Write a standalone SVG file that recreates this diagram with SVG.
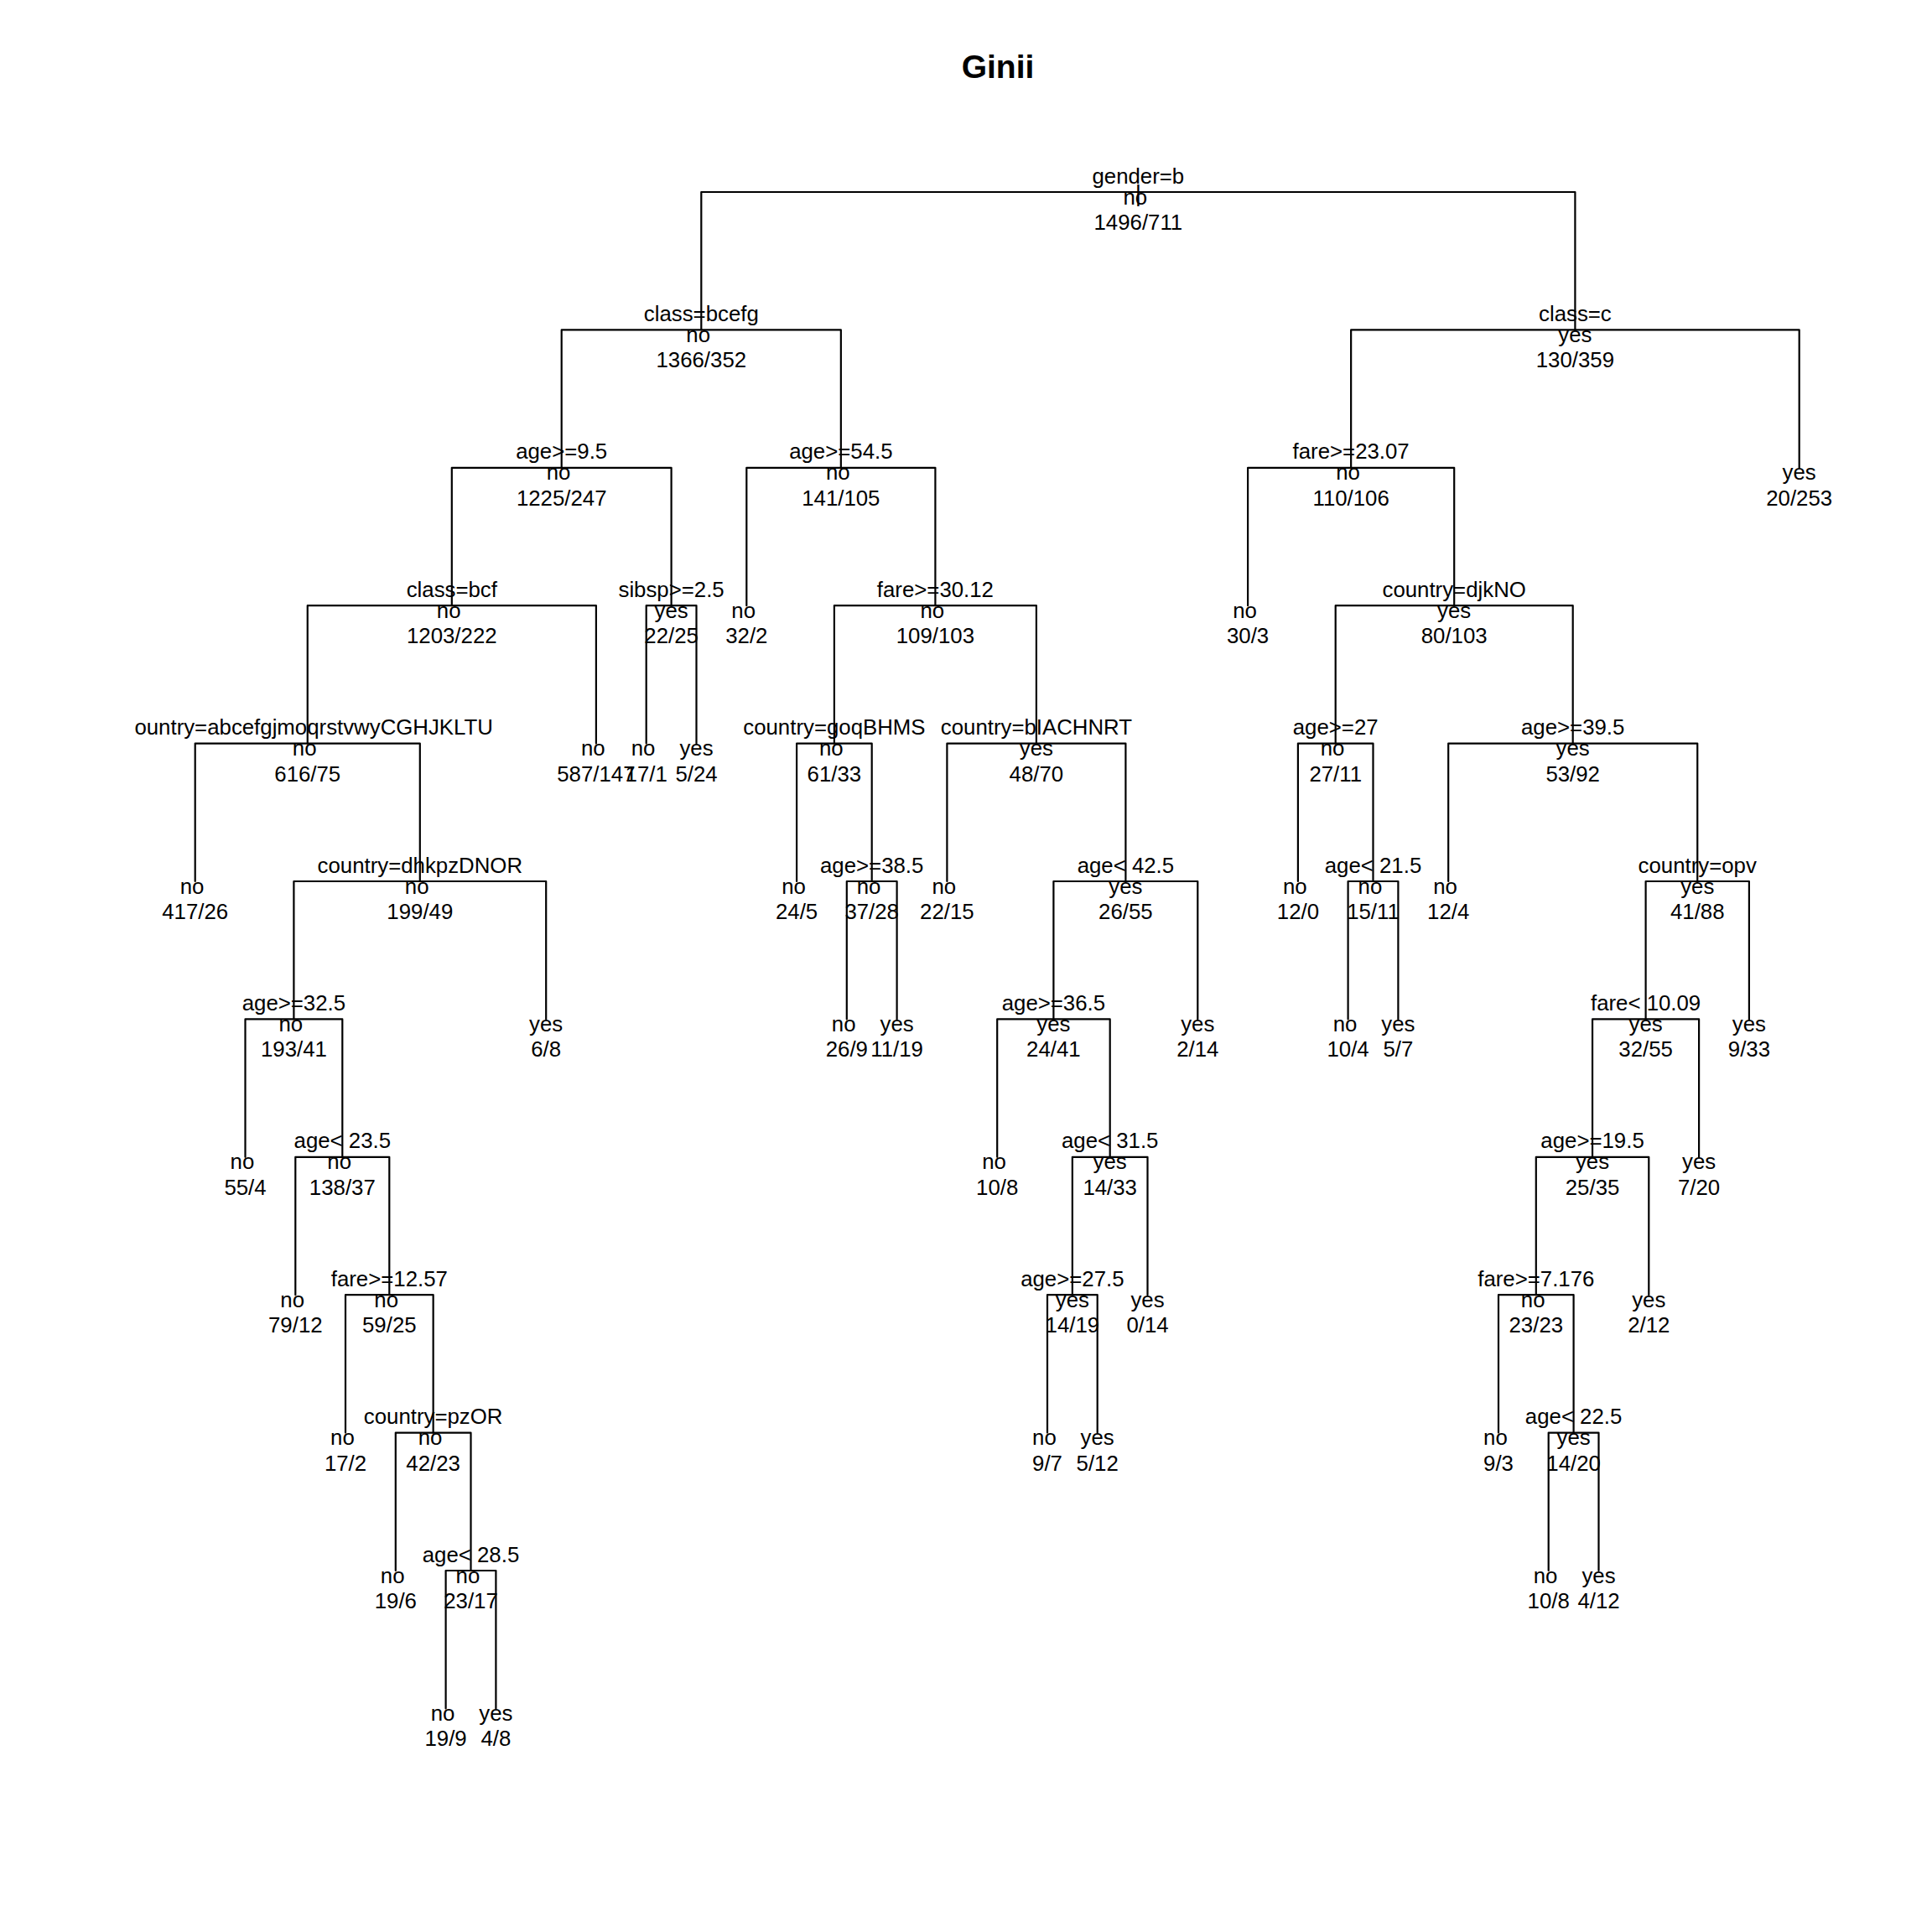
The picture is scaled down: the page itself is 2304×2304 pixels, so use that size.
<svg xmlns="http://www.w3.org/2000/svg" width="2304" height="2304" viewBox="0 0 2304 2304">
<style>
.t{font-family:"Liberation Sans",Arial,sans-serif;font-size:25.8px;text-anchor:middle;fill:#000}
.e{text-anchor:end}
.title{font-family:"Liberation Sans",Arial,sans-serif;font-size:39px;font-weight:bold;text-anchor:middle;fill:#000}
.br{fill:none;stroke:#000;stroke-width:2.2;stroke-linecap:round;stroke-linejoin:round}
</style>
<rect x="0" y="0" width="2304" height="2304" fill="#fff"/>
<text class="title" x="1190" y="93">Ginii</text>
<g id="connectors" class="br">
<path class="br" d="M836.3 393.4V229H1878.4V393.4"/>
<path class="br" d="M669.7 557.8V393.4H1002.85V557.8"/>
<path class="br" d="M1611.15 557.8V393.4H2145.7V557.8"/>
<path class="br" d="M538.8 722.2V557.8H800.6V722.2"/>
<path class="br" d="M890.3 722.2V557.8H1115.4V722.2"/>
<path class="br" d="M1488.1 722.2V557.8H1734.2V722.2"/>
<path class="br" d="M366.75 886.6V722.2H710.9V886.6"/>
<path class="br" d="M770.7 886.6V722.2H830.5V886.6"/>
<path class="br" d="M994.9 886.6V722.2H1235.9V886.6"/>
<path class="br" d="M1592.7 886.6V722.2H1875.7V886.6"/>
<path class="br" d="M232.7 1051V886.6H500.8V1051"/>
<path class="br" d="M950.1 1051V886.6H1039.7V1051"/>
<path class="br" d="M1129.4 1051V886.6H1342.4V1051"/>
<path class="br" d="M1547.9 1051V886.6H1637.5V1051"/>
<path class="br" d="M1727.2 1051V886.6H2024.25V1051"/>
<path class="br" d="M350.4 1215.4V1051H651.2V1215.4"/>
<path class="br" d="M1009.8 1215.4V1051H1069.6V1215.4"/>
<path class="br" d="M1256.4 1215.4V1051H1428.3V1215.4"/>
<path class="br" d="M1607.6 1215.4V1051H1667.4V1215.4"/>
<path class="br" d="M1962.6 1215.4V1051H2085.9V1215.4"/>
<path class="br" d="M292.5 1379.8V1215.4H408.3V1379.8"/>
<path class="br" d="M1189.2 1379.8V1215.4H1323.7V1379.8"/>
<path class="br" d="M1899.05 1379.8V1215.4H2026.1V1379.8"/>
<path class="br" d="M352.3 1544.2V1379.8H464.3V1544.2"/>
<path class="br" d="M1278.85 1544.2V1379.8H1368.5V1544.2"/>
<path class="br" d="M1831.8 1544.2V1379.8H1966.3V1544.2"/>
<path class="br" d="M412 1708.6V1544.2H516.65V1708.6"/>
<path class="br" d="M1249 1708.6V1544.2H1308.7V1708.6"/>
<path class="br" d="M1787 1708.6V1544.2H1876.6V1708.6"/>
<path class="br" d="M471.8 1873V1708.6H561.5V1873"/>
<path class="br" d="M1846.7 1873V1708.6H1906.5V1873"/>
<path class="br" d="M531.6 2037.4V1873H591.4V2037.4"/>
</g>
<g id="n1"><text class="t" x="1357.35" y="218.5">gender=b</text><text class="t" x="1357.35" y="240" style="font-size:28px">|</text><text class="t" x="1357.35" dx="-3.6" y="243.5">no</text><text class="t" x="1357.35" y="274">1496/711</text></g>
<g id="n2"><text class="t" x="836.3" y="382.9">class=bcefg</text><text class="t" x="836.3" dx="-3.6" y="407.9">no</text><text class="t" x="836.3" y="438.4">1366/352</text></g>
<g id="n3"><text class="t" x="1878.4" y="382.9">class=c</text><text class="t" x="1878.4" y="407.9">yes</text><text class="t" x="1878.4" y="438.4">130/359</text></g>
<g id="n4"><text class="t" x="669.7" y="547.3">age&gt;=9.5</text><text class="t" x="669.7" dx="-3.6" y="572.3">no</text><text class="t" x="669.7" y="602.8">1225/247</text></g>
<g id="n5"><text class="t" x="1002.85" y="547.3">age&gt;=54.5</text><text class="t" x="1002.85" dx="-3.6" y="572.3">no</text><text class="t" x="1002.85" y="602.8">141/105</text></g>
<g id="n6"><text class="t" x="1611.15" y="547.3">fare&gt;=23.07</text><text class="t" x="1611.15" dx="-3.6" y="572.3">no</text><text class="t" x="1611.15" y="602.8">110/106</text></g>
<g id="n7"><text class="t" x="2145.7" y="572.3">yes</text><text class="t" x="2145.7" y="602.8">20/253</text></g>
<g id="n8"><text class="t" x="538.8" y="711.7">class=bcf</text><text class="t" x="538.8" dx="-3.6" y="736.7">no</text><text class="t" x="538.8" y="767.2">1203/222</text></g>
<g id="n9"><text class="t" x="800.6" y="711.7">sibsp&gt;=2.5</text><text class="t" x="800.6" y="736.7">yes</text><text class="t" x="800.6" y="767.2">22/25</text></g>
<g id="n10"><text class="t" x="890.3" dx="-3.6" y="736.7">no</text><text class="t" x="890.3" y="767.2">32/2</text></g>
<g id="n11"><text class="t" x="1115.4" y="711.7">fare&gt;=30.12</text><text class="t" x="1115.4" dx="-3.6" y="736.7">no</text><text class="t" x="1115.4" y="767.2">109/103</text></g>
<g id="n12"><text class="t" x="1488.1" dx="-3.6" y="736.7">no</text><text class="t" x="1488.1" y="767.2">30/3</text></g>
<g id="n13"><text class="t" x="1734.2" y="711.7">country=djkNO</text><text class="t" x="1734.2" y="736.7">yes</text><text class="t" x="1734.2" y="767.2">80/103</text></g>
<g id="n14"><text class="t e" x="587.9" y="876.1">ountry=abcefgjmoqrstvwyCGHJKLTU</text><text class="t" x="366.75" dx="-3.6" y="901.1">no</text><text class="t" x="366.75" y="931.6">616/75</text></g>
<g id="n15"><text class="t" x="710.9" dx="-3.6" y="901.1">no</text><text class="t" x="710.9" y="931.6">587/147</text></g>
<g id="n16"><text class="t" x="770.7" dx="-3.6" y="901.1">no</text><text class="t" x="770.7" y="931.6">17/1</text></g>
<g id="n17"><text class="t" x="830.5" y="901.1">yes</text><text class="t" x="830.5" y="931.6">5/24</text></g>
<g id="n18"><text class="t" x="994.9" y="876.1">country=goqBHMS</text><text class="t" x="994.9" dx="-3.6" y="901.1">no</text><text class="t" x="994.9" y="931.6">61/33</text></g>
<g id="n19"><text class="t" x="1235.9" y="876.1">country=bIACHNRT</text><text class="t" x="1235.9" y="901.1">yes</text><text class="t" x="1235.9" y="931.6">48/70</text></g>
<g id="n20"><text class="t" x="1592.7" y="876.1">age&gt;=27</text><text class="t" x="1592.7" dx="-3.6" y="901.1">no</text><text class="t" x="1592.7" y="931.6">27/11</text></g>
<g id="n21"><text class="t" x="1875.7" y="876.1">age&gt;=39.5</text><text class="t" x="1875.7" y="901.1">yes</text><text class="t" x="1875.7" y="931.6">53/92</text></g>
<g id="n22"><text class="t" x="232.7" dx="-3.6" y="1065.5">no</text><text class="t" x="232.7" y="1096">417/26</text></g>
<g id="n23"><text class="t" x="500.8" y="1040.5">country=dhkpzDNOR</text><text class="t" x="500.8" dx="-3.6" y="1065.5">no</text><text class="t" x="500.8" y="1096">199/49</text></g>
<g id="n24"><text class="t" x="950.1" dx="-3.6" y="1065.5">no</text><text class="t" x="950.1" y="1096">24/5</text></g>
<g id="n25"><text class="t" x="1039.7" y="1040.5">age&gt;=38.5</text><text class="t" x="1039.7" dx="-3.6" y="1065.5">no</text><text class="t" x="1039.7" y="1096">37/28</text></g>
<g id="n26"><text class="t" x="1129.4" dx="-3.6" y="1065.5">no</text><text class="t" x="1129.4" y="1096">22/15</text></g>
<g id="n27"><text class="t" x="1342.4" y="1040.5">age&lt; 42.5</text><text class="t" x="1342.4" y="1065.5">yes</text><text class="t" x="1342.4" y="1096">26/55</text></g>
<g id="n28"><text class="t" x="1547.9" dx="-3.6" y="1065.5">no</text><text class="t" x="1547.9" y="1096">12/0</text></g>
<g id="n29"><text class="t" x="1637.5" y="1040.5">age&lt; 21.5</text><text class="t" x="1637.5" dx="-3.6" y="1065.5">no</text><text class="t" x="1637.5" y="1096">15/11</text></g>
<g id="n30"><text class="t" x="1727.2" dx="-3.6" y="1065.5">no</text><text class="t" x="1727.2" y="1096">12/4</text></g>
<g id="n31"><text class="t" x="2024.25" y="1040.5">country=opv</text><text class="t" x="2024.25" y="1065.5">yes</text><text class="t" x="2024.25" y="1096">41/88</text></g>
<g id="n32"><text class="t" x="350.4" y="1204.9">age&gt;=32.5</text><text class="t" x="350.4" dx="-3.6" y="1229.9">no</text><text class="t" x="350.4" y="1260.4">193/41</text></g>
<g id="n33"><text class="t" x="651.2" y="1229.9">yes</text><text class="t" x="651.2" y="1260.4">6/8</text></g>
<g id="n34"><text class="t" x="1009.8" dx="-3.6" y="1229.9">no</text><text class="t" x="1009.8" y="1260.4">26/9</text></g>
<g id="n35"><text class="t" x="1069.6" y="1229.9">yes</text><text class="t" x="1069.6" y="1260.4">11/19</text></g>
<g id="n36"><text class="t" x="1256.4" y="1204.9">age&gt;=36.5</text><text class="t" x="1256.4" y="1229.9">yes</text><text class="t" x="1256.4" y="1260.4">24/41</text></g>
<g id="n37"><text class="t" x="1428.3" y="1229.9">yes</text><text class="t" x="1428.3" y="1260.4">2/14</text></g>
<g id="n38"><text class="t" x="1607.6" dx="-3.6" y="1229.9">no</text><text class="t" x="1607.6" y="1260.4">10/4</text></g>
<g id="n39"><text class="t" x="1667.4" y="1229.9">yes</text><text class="t" x="1667.4" y="1260.4">5/7</text></g>
<g id="n40"><text class="t" x="1962.6" y="1204.9">fare&lt; 10.09</text><text class="t" x="1962.6" y="1229.9">yes</text><text class="t" x="1962.6" y="1260.4">32/55</text></g>
<g id="n41"><text class="t" x="2085.9" y="1229.9">yes</text><text class="t" x="2085.9" y="1260.4">9/33</text></g>
<g id="n42"><text class="t" x="292.5" dx="-3.6" y="1394.3">no</text><text class="t" x="292.5" y="1424.8">55/4</text></g>
<g id="n43"><text class="t" x="408.3" y="1369.3">age&lt; 23.5</text><text class="t" x="408.3" dx="-3.6" y="1394.3">no</text><text class="t" x="408.3" y="1424.8">138/37</text></g>
<g id="n44"><text class="t" x="1189.2" dx="-3.6" y="1394.3">no</text><text class="t" x="1189.2" y="1424.8">10/8</text></g>
<g id="n45"><text class="t" x="1323.7" y="1369.3">age&lt; 31.5</text><text class="t" x="1323.7" y="1394.3">yes</text><text class="t" x="1323.7" y="1424.8">14/33</text></g>
<g id="n46"><text class="t" x="1899.05" y="1369.3">age&gt;=19.5</text><text class="t" x="1899.05" y="1394.3">yes</text><text class="t" x="1899.05" y="1424.8">25/35</text></g>
<g id="n47"><text class="t" x="2026.1" y="1394.3">yes</text><text class="t" x="2026.1" y="1424.8">7/20</text></g>
<g id="n48"><text class="t" x="352.3" dx="-3.6" y="1558.7">no</text><text class="t" x="352.3" y="1589.2">79/12</text></g>
<g id="n49"><text class="t" x="464.3" y="1533.7">fare&gt;=12.57</text><text class="t" x="464.3" dx="-3.6" y="1558.7">no</text><text class="t" x="464.3" y="1589.2">59/25</text></g>
<g id="n50"><text class="t" x="1278.85" y="1533.7">age&gt;=27.5</text><text class="t" x="1278.85" y="1558.7">yes</text><text class="t" x="1278.85" y="1589.2">14/19</text></g>
<g id="n51"><text class="t" x="1368.5" y="1558.7">yes</text><text class="t" x="1368.5" y="1589.2">0/14</text></g>
<g id="n52"><text class="t" x="1831.8" y="1533.7">fare&gt;=7.176</text><text class="t" x="1831.8" dx="-3.6" y="1558.7">no</text><text class="t" x="1831.8" y="1589.2">23/23</text></g>
<g id="n53"><text class="t" x="1966.3" y="1558.7">yes</text><text class="t" x="1966.3" y="1589.2">2/12</text></g>
<g id="n54"><text class="t" x="412" dx="-3.6" y="1723.1">no</text><text class="t" x="412" y="1753.6">17/2</text></g>
<g id="n55"><text class="t" x="516.65" y="1698.1">country=pzOR</text><text class="t" x="516.65" dx="-3.6" y="1723.1">no</text><text class="t" x="516.65" y="1753.6">42/23</text></g>
<g id="n56"><text class="t" x="1249" dx="-3.6" y="1723.1">no</text><text class="t" x="1249" y="1753.6">9/7</text></g>
<g id="n57"><text class="t" x="1308.7" y="1723.1">yes</text><text class="t" x="1308.7" y="1753.6">5/12</text></g>
<g id="n58"><text class="t" x="1787" dx="-3.6" y="1723.1">no</text><text class="t" x="1787" y="1753.6">9/3</text></g>
<g id="n59"><text class="t" x="1876.6" y="1698.1">age&lt; 22.5</text><text class="t" x="1876.6" y="1723.1">yes</text><text class="t" x="1876.6" y="1753.6">14/20</text></g>
<g id="n60"><text class="t" x="471.8" dx="-3.6" y="1887.5">no</text><text class="t" x="471.8" y="1918">19/6</text></g>
<g id="n61"><text class="t" x="561.5" y="1862.5">age&lt; 28.5</text><text class="t" x="561.5" dx="-3.6" y="1887.5">no</text><text class="t" x="561.5" y="1918">23/17</text></g>
<g id="n62"><text class="t" x="1846.7" dx="-3.6" y="1887.5">no</text><text class="t" x="1846.7" y="1918">10/8</text></g>
<g id="n63"><text class="t" x="1906.5" y="1887.5">yes</text><text class="t" x="1906.5" y="1918">4/12</text></g>
<g id="n64"><text class="t" x="531.6" dx="-3.6" y="2051.9">no</text><text class="t" x="531.6" y="2082.4">19/9</text></g>
<g id="n65"><text class="t" x="591.4" y="2051.9">yes</text><text class="t" x="591.4" y="2082.4">4/8</text></g>
</svg>
